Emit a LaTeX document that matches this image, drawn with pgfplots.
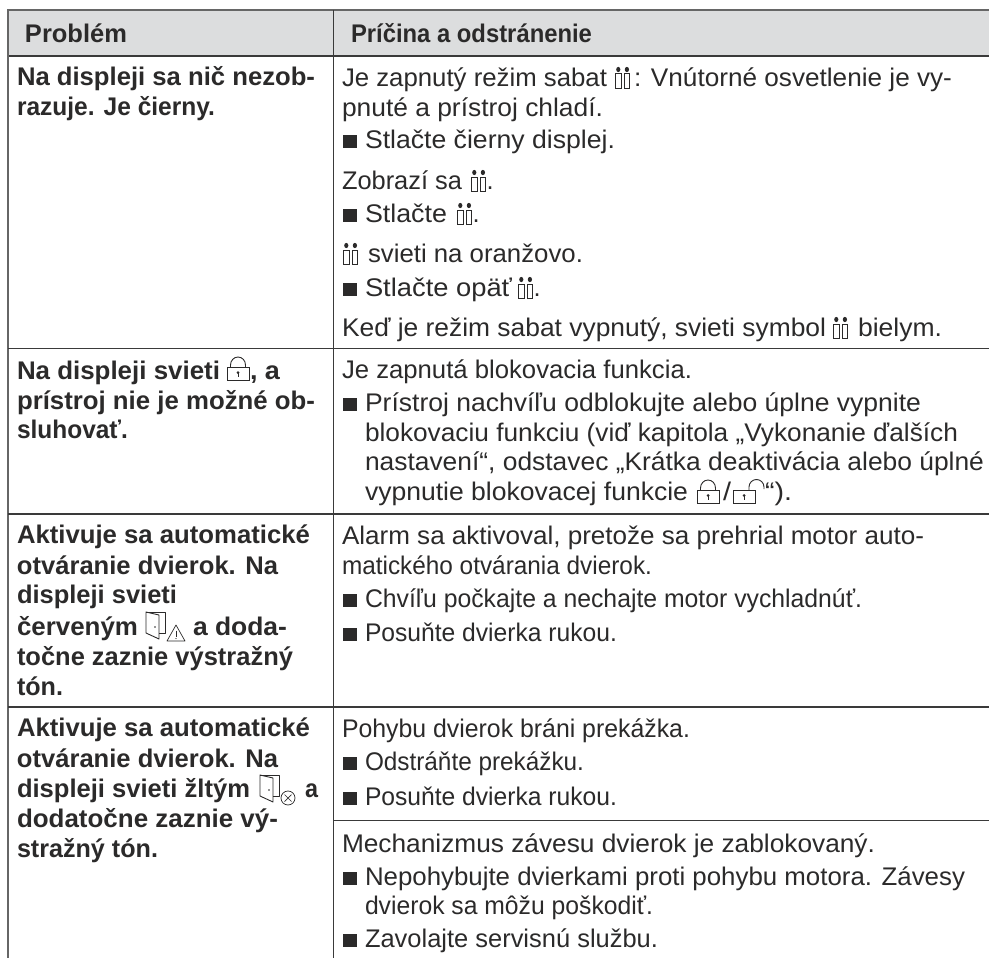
\documentclass[border=0pt]{standalone}
\usepackage{fontspec}
\usepackage{graphicx}
\usepackage{pgfplots}
\pgfplotsset{compat=1.18}
\setmainfont{Liberation Sans}
\definecolor{ink}{HTML}{2B2A2A}
\definecolor{hdr}{HTML}{DCDDDE}
\definecolor{rulec}{HTML}{3A3A3A}
\definecolor{rulet}{HTML}{666666}
\newcommand\TT[4]{\node[anchor=base west,inner sep=0pt,outer sep=0pt,text=ink] at (axis cs:#1,#2) {\resizebox{#3pt}{\height}{\fontsize{25.5}{28}\selectfont #4}};}
\newcommand\B[4]{\TT{#1}{#2}{#3}{\bfseries #4}}
\newcommand\Dot[2]{\node[anchor=base west,inner sep=0pt,outer sep=0pt,text=ink] at (axis cs:#1,#2) {\fontsize{25.5}{28}\selectfont .};}
\newcommand\Sq[1]{\fill[ink,shift={(axis cs:342.5,#1)},x=1pt,y=-1pt] (0,0) rectangle (14,-13);}
\newcommand\Cand[2]{\begin{scope}[shift={(axis cs:#1,#2)},x=1pt,y=-1pt,ink]
\draw[line width=1pt] (0.5,2.5) rectangle (6.2,-12);\draw[line width=1pt] (9,2.5) rectangle (14.7,-12);
\fill (3.3,-16.5) ellipse (2.1 and 2.6);\fill (11.9,-16.5) ellipse (2.1 and 2.6);\end{scope}}
\newcommand\LockC[2]{\begin{scope}[shift={(axis cs:#1,#2)},x=1pt,y=-1pt,ink,line width=0.9pt]
\draw (0,0) rectangle (22,-13);\draw (3.5,-13) -- (3.5,-15) arc (180:360:7.5 and 8) -- (18.5,-13);
\fill (11,-7.5) circle (1.5);\draw (11,-7) -- (11,-3);\end{scope}}
\newcommand\LockO[2]{\begin{scope}[shift={(axis cs:#1,#2)},x=1pt,y=-1pt,ink,line width=0.9pt]
\draw (0,0) rectangle (22,-13);\draw (16,-13) -- (16,-16) arc (180:360:7.5 and 7.5) -- (31,-14);
\fill (11,-7.5) circle (1.5);\draw (11,-7) -- (11,-3);\end{scope}}
\newcommand\Door[2]{\begin{scope}[shift={(axis cs:#1,#2)},x=1pt,y=-1pt,ink,line width=0.9pt,line join=round]
\draw (0,-27) -- (19,-27) -- (19,-6) -- (13,-6);
\draw (0,-27) -- (13,-24) -- (13,0) -- (0,-6) -- cycle;
\fill (9,-12) circle (0.9);\end{scope}}
\newcommand\Warn[2]{\begin{scope}[shift={(axis cs:#1,#2)},x=1pt,y=-1pt,ink,line width=0.7pt]
\draw[line join=round] (0,0) -- (18,0) -- (9,-16) -- cycle;\draw[line width=1pt] (9,-10.5) -- (9,-4.5);\fill (9,-2.5) circle (0.7);\end{scope}}
\newcommand\Cross[2]{\begin{scope}[shift={(axis cs:#1,#2)},x=1pt,y=-1pt,ink,line width=0.7pt]
\draw (0,0) circle (7);\draw (-3.5,-3.5) -- (3.5,3.5) (-3.5,3.5) -- (3.5,-3.5);\end{scope}}
\begin{document}
\begin{tikzpicture}
\useasboundingbox (0pt,0pt) rectangle (989pt,958pt);
\begin{axis}[
  at={(0,0)},anchor=south west,
  width=989pt,height=958pt,scale only axis,
  xmin=0,xmax=989,ymin=0,ymax=958,y dir=reverse,
  hide axis,clip=false]
\addplot[fill=hdr,draw=none] coordinates {(8,10) (989,10) (989,56) (8,56)} --cycle;
\addplot[rulet,line width=2pt] coordinates {(7,10) (989,10)};
\addplot[rulec,line width=1.2pt] coordinates {(8,56) (989,56)};
\addplot[rulet,line width=2.2pt] coordinates {(8,10) (8,958)};
\addplot[rulec,line width=1.3pt] coordinates {(333.5,10) (333.5,958)};
\addplot[rulec,line width=1.3pt] coordinates {(8,348.5) (989,348.5)};
\addplot[rulec,line width=1.3pt] coordinates {(8,514) (989,514)};
\addplot[rulec,line width=1.3pt] coordinates {(8,707) (989,707)};
\addplot[rulec,line width=1pt] coordinates {(333.5,820.5) (989,820.5)};

\B{25}{43}{102}{Problém}
\B{351}{43}{241}{Príčina a odstránenie}

\B{17}{86}{298}{Na displeji sa nič nezob-}
\B{17}{116}{198}{razuje. Je čierny.}
\TT{342}{86}{265}{Je zapnutý režim sabat}
\Cand{615}{86}
\TT{634}{86}{318}{: Vnútorné osvetlenie je vy-}
\TT{342}{116}{261}{pnuté a prístroj chladí.}
\Sq{148}\TT{365}{148}{250}{Stlačte čierny displej.}
\TT{342}{189}{120}{Zobrazí sa}\Cand{471}{189}\Dot{486.5}{189}
\Sq{222}\TT{365}{222}{82}{Stlačte}\Cand{457}{222}\Dot{472.5}{222}
\Cand{343}{262}\TT{368}{262}{215}{svieti na oranžovo.}
\Sq{296}\TT{365}{296}{147}{Stlačte opäť}\Cand{518}{296}\Dot{533.5}{296}
\TT{342}{336}{484}{Keď je režim sabat vypnutý, svieti symbol}\Cand{833}{336}\TT{858}{336}{84}{bielym.}

\B{17}{379}{203}{Na displeji svieti}\LockC{227}{380}\B{250}{379}{30}{, a}
\B{17}{409}{298}{prístroj nie je možné ob-}
\B{17}{438}{111}{sluhovať.}
\TT{342}{378}{350}{Je zapnutá blokovacia funkcia.}
\Sq{411}\TT{365}{411}{556}{Prístroj nachvíľu odblokujte alebo úplne vypnite}
\TT{365}{441}{593}{blokovaciu funkciu (viď kapitola „Vykonanie ďalších}
\TT{365}{470}{619}{nastavení“, odstavec „Krátka deaktivácia alebo úplné}
\TT{365}{500}{323}{vypnutie blokovacej funkcie}
\LockC{697}{503}\TT{723}{500}{8}{/}\LockO{733}{503}\TT{765}{500}{27}{“).}

\B{17}{543}{293}{Aktivuje sa automatické}
\B{17}{574}{261}{otváranie dvierok. Na}
\B{17}{603}{160}{displeji svieti}
\B{17}{635}{121}{červeným}\Door{146}{639}\Warn{167}{641}\B{193}{635}{94}{a doda-}
\B{17}{665}{276}{točne zaznie výstražný}
\B{17}{695}{46}{tón.}
\TT{342}{544}{582}{Alarm sa aktivoval, pretože sa prehrial motor auto-}
\TT{342}{574}{310}{matického otvárania dvierok.}
\Sq{607}\TT{365}{607}{497}{Chvíľu počkajte a nechajte motor vychladnúť.}
\Sq{641}\TT{365}{641}{252}{Posuňte dvierka rukou.}

\B{17}{736}{293}{Aktivuje sa automatické}
\B{17}{767}{261}{otváranie dvierok. Na}
\B{17}{797}{233}{displeji svieti žltým}\Door{260}{802}\Cross{288}{798}\B{305}{797}{13}{a}
\B{17}{827}{261}{dodatočne zaznie vý-}
\B{17}{857}{141}{stražný tón.}
\TT{342}{737}{348}{Pohybu dvierok bráni prekážka.}
\Sq{770}\TT{365}{770}{219}{Odstráňte prekážku.}
\Sq{805}\TT{365}{805}{252}{Posuňte dvierka rukou.}
\TT{342}{852}{533}{Mechanizmus závesu dvierok je zablokovaný.}
\Sq{885}\TT{365}{885}{600}{Nepohybujte dvierkami proti pohybu motora. Závesy}
\TT{365}{914}{288}{dvierok sa môžu poškodiť.}
\Sq{947}\TT{365}{947}{293}{Zavolajte servisnú službu.}
\end{axis}
\end{tikzpicture}
\end{document}
